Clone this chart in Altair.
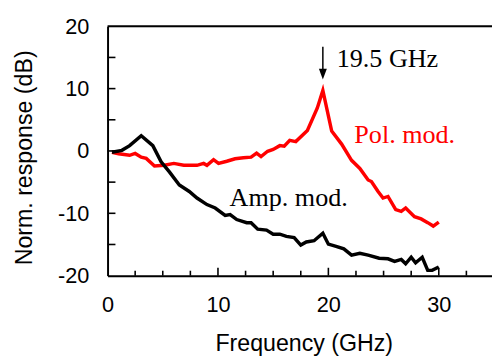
import altair as alt
import pandas as pd

# ---- data ----
pol_f = [0.4, 1.0, 2.0, 2.5, 3.05, 3.5, 4.25, 5.15, 6.0, 6.9, 8.1, 8.7, 9.0, 9.6, 10.05,
         10.8, 11.55, 12.3, 13.0, 13.5, 13.9, 14.5, 15.0, 15.6, 16.0, 16.5, 17.05, 18.1,
         19.0, 19.5, 20.3, 21.2, 22.1, 22.85, 23.6, 23.9, 24.5, 24.95, 25.4, 26.1, 26.6,
         27.0, 27.8, 28.4, 29.0, 29.5, 30.0]
pol_v = [-0.2, -0.45, -0.7, -0.4, -1.0, -1.2, -2.4, -2.3, -2.0, -2.3, -2.3, -2.0, -2.3, -1.4,
         -2.0, -1.65, -1.25, -1.1, -1.0, -0.35, -0.9, -0.05, 0.25, 0.85, 0.75, 1.7, 1.5, 3.3,
         6.9, 9.7, 3.2, 1.1, -1.5, -2.8, -4.65, -4.9, -6.5, -7.55, -7.3, -9.4, -9.7,
         -9.15, -10.55, -10.9, -11.5, -12.05, -11.4]

amp_f = [0.4, 1.3, 2.0, 3.05, 4.1, 4.85, 5.6, 6.5, 7.4, 8.1, 9.0, 9.75, 10.65, 11.1, 11.7,
         12.6, 13.0, 13.6, 14.4, 15.0, 15.6, 16.2, 16.9, 17.5, 18.0, 18.7, 19.5, 20.0, 20.7,
         21.4, 22.1, 22.85, 23.6, 24.6, 25.4, 26.0, 26.6, 27.0, 27.5, 27.9, 28.5, 29.0,
         29.4, 30.0]
amp_v = [-0.2, 0.1, 0.85, 2.45, 0.85, -1.75, -3.35, -5.45, -6.5, -7.55, -8.6, -9.15, -10.35,
         -10.2, -11.0, -11.5, -11.5, -12.55, -12.7, -13.35, -13.35, -13.7, -13.9, -15.1,
         -14.6, -14.4, -13.2, -14.95, -15.3, -15.7, -16.7, -16.4, -16.7, -17.2, -17.3,
         -17.7, -17.4, -18.1, -17.05, -17.95, -17.05, -19.15, -19.15, -18.6]

x_major_ticks = [10, 20, 30]
x_minor_ticks = [2.5, 5, 7.5, 12.5, 15, 17.5, 22.5, 25, 27.5, 32.5]
y_ticks = [-15, -10, -5, 0, 5, 10, 15]
x_labels = [0, 10, 20, 30]
y_labels = [-20, -10, 0, 10, 20]

annot_text = ["19.5 GHz", "Pol. mod.", "Amp. mod."]
annot_f = [20.75, 22.35, 11.05]
annot_v = [13.5, 1.2, -8.8]
annot_color = ["black", "red", "black"]

arrow_f = [19.5]
arrow_top = [16.7]
arrow_bottom = [12.5]
arrow_head = [12.33]

X_MAX = 34.82
W, H = 390, 253

xs = alt.Scale(domain=[0, X_MAX], nice=False, zero=False)
ys = alt.Scale(domain=[-20, 20], nice=False, zero=False)

lab_font = "Liberation Sans"
ser_font = "Liberation Serif"

xaxis = alt.Axis(values=x_labels, title="Frequency (GHz)", ticks=False, grid=False,
                 labelFlush=False, labelFont=lab_font, labelFontSize=22, labelPadding=19,
                 labelExpr="'' + datum.value",
                 labelColor="black", domainColor="black", domainWidth=2,
                 titleFont=lab_font, titleFontSize=23.5, titleFontWeight="normal",
                 titleColor="black", titleX=199, titleY=76, titleBaseline="alphabetic")
yaxis = alt.Axis(values=y_labels, title="Norm. response (dB)", ticks=False, grid=False,
                 labelFlush=False, labelFont=lab_font, labelFontSize=22, labelPadding=19,
                 labelExpr="'' + datum.value",
                 labelColor="black", domainColor="black", domainWidth=2,
                 titleFont=lab_font, titleFontSize=23.5, titleFontWeight="normal",
                 titleColor="black", titleX=-72, titleY=133, titleBaseline="bottom")

pol = pd.DataFrame({"f": pol_f, "v": pol_v})
amp = pd.DataFrame({"f": amp_f, "v": amp_v})

line_pol = alt.Chart(pol).mark_line(color="#ff0000", strokeWidth=3.5).encode(
    x=alt.X("f:Q", scale=xs, axis=xaxis), y=alt.Y("v:Q", scale=ys, axis=yaxis))
line_amp = alt.Chart(amp).mark_line(color="black", strokeWidth=3.5).encode(
    x=alt.X("f:Q", scale=xs), y=alt.Y("v:Q", scale=ys))

top_frame = alt.Chart(pd.DataFrame({"a": [0]})).mark_rule(color="black", strokeWidth=2).encode(
    x=alt.value(0), x2=alt.value(W), y=alt.value(0))

xmaj = alt.Chart(pd.DataFrame({"t": x_major_ticks})).mark_rule(color="black", strokeWidth=1.6).encode(
    x=alt.X("t:Q", scale=xs), y=alt.value(H), y2=alt.value(H - 8))
xmin = alt.Chart(pd.DataFrame({"t": x_minor_ticks})).mark_rule(color="black", strokeWidth=1.6).encode(
    x=alt.X("t:Q", scale=xs), y=alt.value(H), y2=alt.value(H - 5))
ytk = alt.Chart(pd.DataFrame({"t": y_ticks})).mark_rule(color="black", strokeWidth=1.6).encode(
    y=alt.Y("t:Q", scale=ys), x=alt.value(0), x2=alt.value(8))

adf = pd.DataFrame({"text": annot_text, "f": annot_f, "v": annot_v, "c": annot_color})
annots = alt.Chart(adf).mark_text(font=ser_font, fontSize=26.5, align="left",
                                  baseline="alphabetic").encode(
    x=alt.X("f:Q", scale=xs), y=alt.Y("v:Q", scale=ys), text="text:N",
    color=alt.Color("c:N", scale=None))

arr = pd.DataFrame({"f": arrow_f, "top": arrow_top, "bot": arrow_bottom, "head": arrow_head})
arrow_line = alt.Chart(arr).mark_rule(color="black", strokeWidth=1.5).encode(
    x=alt.X("f:Q", scale=xs), y=alt.Y("top:Q", scale=ys), y2="bot:Q")
arrow_tip = alt.Chart(arr).mark_point(shape="M-0.73,-1L0.73,-1L0,1Z", filled=True,
                                      color="black", opacity=1, size=121).encode(
    x=alt.X("f:Q", scale=xs), y=alt.Y("head:Q", scale=ys))

chart = alt.layer(line_pol, line_amp, top_frame, xmaj, xmin, ytk, annots,
                  arrow_line, arrow_tip).properties(
    width=W, height=H,
    autosize=alt.AutoSizeParams(type="none"),
    padding={"left": 101, "top": 16, "right": 0, "bottom": 80},
).configure_view(stroke=None).configure(background="white")

chart.save("out.html", embed_options={"renderer": "svg", "actions": False})
